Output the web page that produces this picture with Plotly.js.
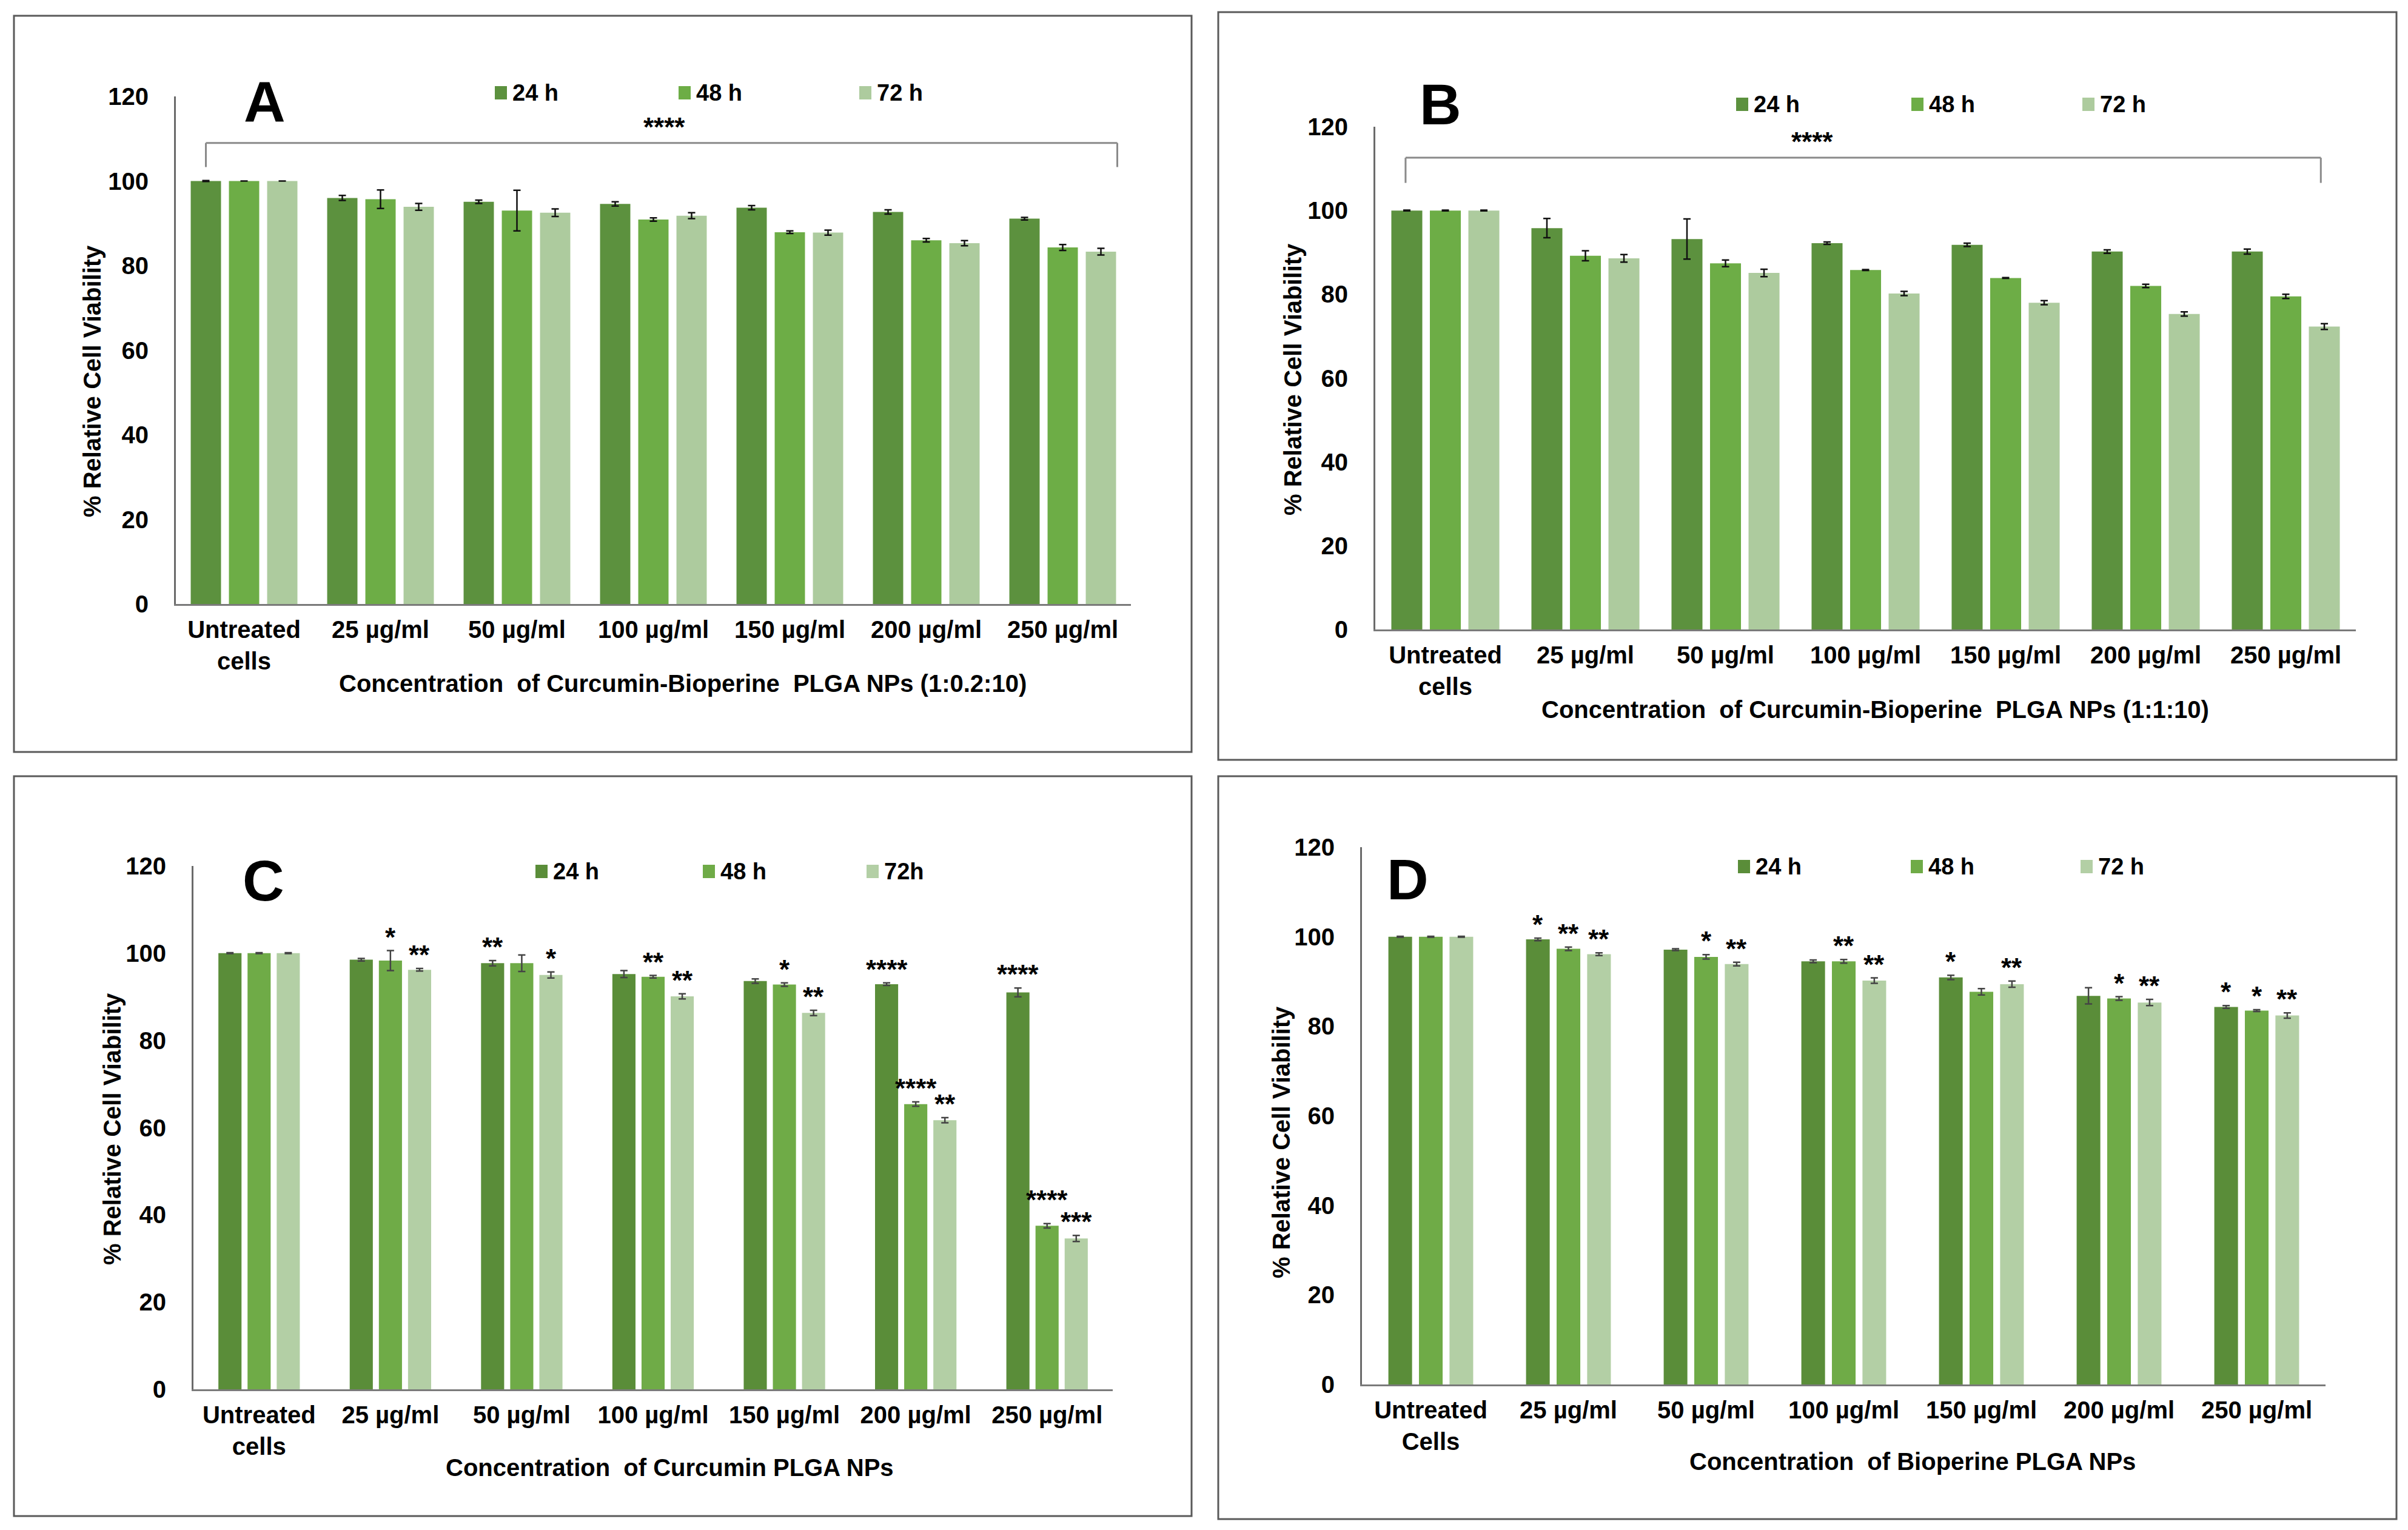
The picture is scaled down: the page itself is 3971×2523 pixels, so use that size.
<!DOCTYPE html>
<html>
<head>
<meta charset="utf-8">
<script src="https://cdn.plot.ly/plotly-3.0.1.min.js"></script>
<style>html,body{margin:0;padding:0;background:#fff;}#chart{width:3971px;height:2523px;}</style>
</head>
<body>
<div id="chart"></div>
<script>
// ---------- DATA ----------
const categoriesABC = ['Untreated<br>cells', '25 µg/ml', '50 µg/ml', '100 µg/ml', '150 µg/ml', '200 µg/ml', '250 µg/ml'];
const categoriesD = ['Untreated<br>Cells', '25 µg/ml', '50 µg/ml', '100 µg/ml', '150 µg/ml', '200 µg/ml', '250 µg/ml'];

// Panel A: Curcumin-Bioperine PLGA NPs (1:0.2:10)
const a24 = [100, 96.0, 95.1, 94.6, 93.7, 92.7, 91.1];
const a24err = [0.1, 0.6, 0.4, 0.5, 0.5, 0.5, 0.3];
const a48 = [100, 95.7, 93.0, 90.9, 87.9, 86.0, 84.3];
const a48err = [0, 2.2, 4.8, 0.4, 0.3, 0.4, 0.7];
const a72 = [100, 93.9, 92.5, 91.8, 87.8, 85.3, 83.3];
const a72err = [0, 0.8, 0.9, 0.7, 0.6, 0.6, 0.8];

// Panel B: Curcumin-Bioperine PLGA NPs (1:1:10)
const b24 = [100, 95.8, 93.2, 92.2, 91.8, 90.2, 90.2];
const b24err = [0.1, 2.3, 4.8, 0.3, 0.4, 0.4, 0.6];
const b48 = [100, 89.2, 87.4, 85.8, 83.9, 82.0, 79.5];
const b48err = [0.1, 1.2, 0.8, 0.1, 0.1, 0.4, 0.5];
const b72 = [100, 88.6, 85.1, 80.2, 78.0, 75.3, 72.3];
const b72err = [0.1, 0.9, 0.9, 0.5, 0.5, 0.5, 0.7];

// Panel C: Curcumin PLGA NPs
const c24 = [100, 98.5, 97.7, 95.2, 93.6, 92.9, 91.0];
const c24err = [0.1, 0.3, 0.6, 0.8, 0.5, 0.3, 1.0];
const c48 = [100, 98.3, 97.7, 94.6, 92.8, 65.4, 37.5];
const c48err = [0.1, 2.3, 1.9, 0.3, 0.4, 0.5, 0.5];
const c72 = [100, 96.2, 95.0, 90.1, 86.3, 61.7, 34.6];
const c72err = [0.1, 0.3, 0.7, 0.6, 0.6, 0.6, 0.7];
const c24stars = ['', '', '**', '', '', '****', '****'];
const c48stars = ['', '*', '', '**', '*', '****', '****'];
const c72stars = ['', '**', '*', '**', '**', '**', '***'];

// Panel D: Bioperine PLGA NPs
const d24 = [100, 99.4, 97.1, 94.5, 90.9, 86.8, 84.3];
const d24err = [0.1, 0.3, 0.2, 0.3, 0.5, 1.8, 0.3];
const d48 = [100, 97.3, 95.5, 94.5, 87.7, 86.2, 83.5];
const d48err = [0.1, 0.4, 0.5, 0.4, 0.7, 0.4, 0.2];
const d72 = [100, 96.1, 93.9, 90.2, 89.4, 85.3, 82.4];
const d72err = [0.1, 0.3, 0.4, 0.6, 0.7, 0.7, 0.6];
const d24stars = ['', '*', '', '', '*', '', '*'];
const d48stars = ['', '**', '*', '**', '', '*', '*'];
const d72stars = ['', '**', '**', '**', '**', '**', '**'];

const seriesNamesA = ['24 h', '48 h', '72 h'];
const seriesNamesB = ['24 h', '48 h', '72 h'];
const seriesNamesC = ['24 h', '48 h', '72h'];
const seriesNamesD = ['24 h', '48 h', '72 h'];

const yTitle = '% Relative Cell Viability';
const xTitleA = 'Concentration  of Curcumin-Bioperine  PLGA NPs (1:0.2:10)';
const xTitleB = 'Concentration  of Curcumin-Bioperine  PLGA NPs (1:1:10)';
const xTitleC = 'Concentration  of Curcumin PLGA NPs';
const xTitleD = 'Concentration  of Bioperine PLGA NPs';

// ---------- STYLE ----------
const W = 3971, H = 2523;
const FONT = 'Liberation Sans, Arial, Helvetica, sans-serif';
const colorsGrad = ['#5c913e', '#6dad46', '#adcb9e'];   // panels A, B
const colorsFlat = ['#5a8d39', '#6fab47', '#b3cfa5'];   // panels C, D
const px = v => v / W;
const py = v => 1 - v / H;
const STAR_SIZE = 44;

const panels = [
  {id: 'A', xa: 'x',  ya: 'y',  cats: categoriesABC, vals: [a24, a48, a72], errs: [a24err, a48err, a72err],
   names: seriesNamesA, colors: colorsGrad, width: 0.222, pitch: 0.28, errColor: '#111', catPx: 225, unitPx: 6.98,
   legendX: [816, 1119, 1417], legendY: 153},
  {id: 'B', xa: 'x2', ya: 'y2', cats: categoriesABC, vals: [b24, b48, b72], errs: [b24err, b48err, b72err],
   names: seriesNamesB, colors: colorsGrad, width: 0.221, pitch: 0.275, errColor: '#111', catPx: 231, unitPx: 6.91,
   legendX: [2863, 3152, 3434], legendY: 172},
  {id: 'C', xa: 'x3', ya: 'y3', cats: categoriesABC, vals: [c24, c48, c72], errs: [c24err, c48err, c72err],
   names: seriesNamesC, colors: colorsFlat, width: 0.176, pitch: 0.222, errColor: '#444', catPx: 216, unitPx: 7.19,
   stars: [c24stars, c48stars, c72stars], legendX: [883, 1159, 1429], legendY: 1437},
  {id: 'D', xa: 'x4', ya: 'y4', cats: categoriesD, vals: [d24, d48, d72], errs: [d24err, d48err, d72err],
   names: seriesNamesD, colors: colorsFlat, width: 0.172, pitch: 0.222, errColor: '#444', catPx: 227, unitPx: 7.38,
   stars: [d24stars, d48stars, d72stars], legendX: [2866, 3151, 3431], legendY: 1429}
];

const traces = [];
const annotations = [];
const shapes = [];
const starFont = {family: FONT, size: STAR_SIZE, color: '#000', weight: 'bold'};
const legendFont = {family: FONT, size: 38, color: '#000', weight: 'bold'};

panels.forEach(p => {
  for (let s = 0; s < 3; s++) {
    const shift = (s - 1) * p.pitch;
    traces.push({
      type: 'bar', name: p.names[s], x: p.cats, y: p.vals[s],
      xaxis: p.xa, yaxis: p.ya, showlegend: false,
      width: p.width, offset: shift - p.width / 2,
      marker: {color: p.colors[s], line: {width: 0}},
      error_y: {type: 'data', array: p.errs[s], visible: true, color: p.errColor, thickness: 2.5, width: 6},
      hoverinfo: 'x+y+name'
    });
    // legend key (square + label)
    const lx = p.legendX[s], ly = p.legendY;
    shapes.push({type: 'rect', xref: 'paper', yref: 'paper', x0: px(lx), x1: px(lx + 20), y0: py(ly + 11), y1: py(ly - 11),
                 fillcolor: p.colors[s], line: {width: 0}});
    annotations.push({xref: 'paper', yref: 'paper', x: px(lx + 27), y: py(ly), xanchor: 'left', yanchor: 'middle',
                      text: p.names[s], showarrow: false, font: legendFont});
  }
  // significance stars above bars
  if (p.stars) {
    for (let i = 0; i < p.cats.length; i++) {
      const base = [0, 1, 2].map(s => p.vals[s][i] + p.errs[s][i]);
      // raise a label when it would collide with the label of the next bar on its right
      for (let s = 1; s >= 0; s--) {
        const t = p.stars[s][i], tn = p.stars[s + 1][i];
        if (!t || !tn) continue;
        const halfW = (t.length + tn.length) * 0.36 * STAR_SIZE / 2;
        if (halfW > p.pitch * p.catPx && base[s] < base[s + 1] + 5) base[s] = base[s + 1] + 5;
      }
      for (let s = 0; s < 3; s++) {
        const t = p.stars[s][i];
        if (!t) continue;
        annotations.push({xref: p.xa, yref: p.ya, x: i + (s - 1) * p.pitch, y: base[s],
                          text: t, showarrow: false, yanchor: 'bottom', xanchor: 'center', yshift: -4, font: starFont});
      }
    }
  }
});

const tickFont = {family: FONT, size: 40, color: '#000', weight: 'bold'};
function xax(domain, anchor) {
  return {domain: domain, anchor: anchor, type: 'category', range: [-0.5, 6.5], showline: true, linecolor: '#7a7a7a',
          linewidth: 3, showgrid: false, zeroline: false, ticks: '', tickfont: tickFont, ticklabelstandoff: 5, fixedrange: true};
}
function yax(domain, anchor) {
  return {domain: domain, anchor: anchor, range: [0, 120], dtick: 20, showline: true, linecolor: '#6a6a6a',
          linewidth: 3, showgrid: false, zeroline: false, ticks: '', tickfont: tickFont, ticklabelstandoff: 34, fixedrange: true};
}

function textAnn(text, xc, yc, size, angle) {
  return {xref: 'paper', yref: 'paper', x: px(xc), y: py(yc), xanchor: 'center', yanchor: 'middle',
          text: text, showarrow: false, textangle: angle || 0, font: {family: FONT, size: size, color: '#000', weight: 'bold'}};
}

// titles, letters
annotations.push(textAnn(yTitle, 152, 629, 40, -90));
annotations.push(textAnn(yTitle, 2132, 626, 40, -90));
annotations.push(textAnn(yTitle, 185, 1862, 40, -90));
annotations.push(textAnn(yTitle, 2113, 1884, 40, -90));
annotations.push(textAnn(xTitleA, 1126, 1127, 40));
annotations.push(textAnn(xTitleB, 3092, 1170, 40));
annotations.push(textAnn(xTitleC, 1104, 2420, 40));
annotations.push(textAnn(xTitleD, 3154, 2410, 40));
annotations.push(textAnn('A', 436, 168, 95));
annotations.push(textAnn('B', 2375, 172, 95));
annotations.push(textAnn('C', 434, 1452, 95));
annotations.push(textAnn('D', 2321, 1450, 95));
// significance over brackets
annotations.push({xref: 'x', yref: 'y', x: 3.08, y: 112.7, text: '****', showarrow: false, xanchor: 'center', yanchor: 'middle', font: starFont});
annotations.push({xref: 'x2', yref: 'y2', x: 2.62, y: 116.4, text: '****', showarrow: false, xanchor: 'center', yanchor: 'middle', font: starFont});

const bracketLine = {color: '#8a8a8a', width: 3};
function bracket(xr, yr, x0, x1, yTop, yBot) {
  return [
    {type: 'line', xref: xr, yref: yr, x0: x0, x1: x1, y0: yTop, y1: yTop, line: bracketLine},
    {type: 'line', xref: xr, yref: yr, x0: x0, x1: x0, y0: yTop, y1: yBot, line: bracketLine},
    {type: 'line', xref: xr, yref: yr, x0: x1, x1: x1, y0: yTop, y1: yBot, line: bracketLine}
  ];
}
function box(x0, y0, x1, y1) {
  return {type: 'rect', xref: 'paper', yref: 'paper', x0: px(x0), x1: px(x1), y0: py(y1), y1: py(y0),
          line: {color: '#5a5a5a', width: 3}, fillcolor: 'rgba(0,0,0,0)'};
}
shapes.push(...bracket('x', 'y', -0.28, 6.4, 109, 103.3));
shapes.push(...bracket('x2', 'y2', -0.284, 6.25, 112.6, 106.6));
shapes.push(box(23, 26, 1965, 1240), box(2009, 20, 3952, 1253), box(23, 1280, 1965, 2500), box(2009, 1280, 3952, 2505));

const layout = {
  width: W, height: H, margin: {l: 0, r: 0, t: 0, b: 0, pad: 0},
  paper_bgcolor: '#fff', plot_bgcolor: 'rgba(0,0,0,0)',
  barmode: 'overlay', showlegend: false,
  font: {family: FONT, color: '#000'},
  xaxis: xax([px(290), px(1865)], 'y'),
  yaxis: yax([py(996), py(159)], 'x'),
  xaxis2: xax([px(2268), px(3885)], 'y2'),
  yaxis2: yax([py(1038), py(209)], 'x2'),
  xaxis3: xax([px(319), px(1835)], 'y3'),
  yaxis3: yax([py(2291), py(1428)], 'x3'),
  xaxis4: xax([px(2246), px(3835)], 'y4'),
  yaxis4: yax([py(2283), py(1397)], 'x4'),
  annotations: annotations,
  shapes: shapes
};

Plotly.newPlot('chart', traces, layout, {staticPlot: true, displayModeBar: false});
</script>
</body>
</html>
